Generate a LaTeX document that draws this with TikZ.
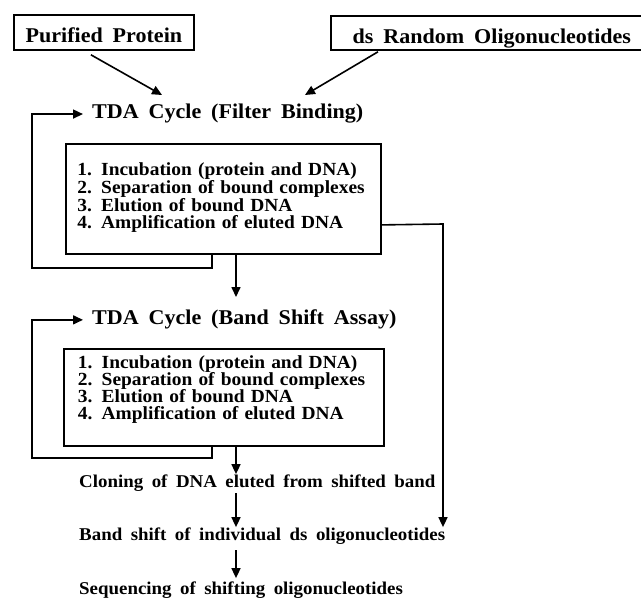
\documentclass[tikz,border=0pt]{standalone}
\usepackage{fontspec}
\setmainfont{Liberation Serif}[WordSpace=1.8,FakeStretch=1.05]
\usetikzlibrary{arrows.meta}

\newcommand{\stepsfont}[1]{\fontsize{18.5}{#1}\selectfont\bfseries\lineskiplimit=-50pt}

\tikzset{
  title/.style={font=\fontsize{21}{24}\selectfont\bfseries, inner sep=0pt},
  srcbox/.style={title, draw, line width=1.8pt, anchor=north west, text height=20.5pt, text depth=0pt},
  stepsbox/.style={draw, line width=1.8pt, anchor=north west, inner ysep=0pt, text width=292pt, align=left},
  result/.style={font=\fontsize{18}{20}\selectfont\bfseries, inner sep=0pt, anchor=base west},
  wire/.style={line width=1.6pt},
  arr/.style={wire, -{Triangle[length=10pt,width=9pt]}}
}

\begin{document}
\begin{tikzpicture}[x=1pt,y=-1pt]
  \useasboundingbox (0,0) rectangle (641,599);
  \clip (0,0) rectangle (641,599);

  \node[srcbox, minimum width=180pt, minimum height=35pt] (protein) at (13,14) {Purified Protein};
  \node[srcbox, minimum width=322pt, minimum height=34pt] (oligos) at (330,15) {ds Random Oligonucleotides};

  \node[title, anchor=base west] (filtercycle) at (92,119) {TDA Cycle (Filter Binding)};
  \node[stepsbox, inner xsep=11.5pt, text height=32pt, text depth=78pt, font={\stepsfont{17.7}}] (filtersteps) at (65,143)
    {1. Incubation (protein and DNA)\\
     2. Separation of bound complexes\\
     3. Elution of bound DNA\\
     4. Amplification of eluted DNA};

  \node[title, anchor=base west] (shiftcycle) at (92,325) {TDA Cycle (Band Shift Assay)};
  \node[stepsbox, inner xsep=14pt, text height=20pt, text depth=77pt, font={\stepsfont{17}}] (shiftsteps) at (63,348)
    {1. Incubation (protein and DNA)\\
     2. Separation of bound complexes\\
     3. Elution of bound DNA\\
     4. Amplification of eluted DNA};

  \node[result] (cloning) at (79,487) {Cloning of DNA eluted from shifted band};
  \node[result] (bandshift) at (79,540) {Band shift of individual ds oligonucleotides};
  \node[result] (sequencing) at (79,594) {Sequencing of shifting oligonucleotides};

  \coordinate (proteinin) at (162,95);
  \coordinate (oligosin) at (305,95);
  \coordinate (spine) at (236,0);
  \coordinate (feed) at (443,224);

  \draw[arr] ([xshift=-13pt,yshift=-4pt]protein.south) -- (proteinin);
  \draw[arr] ([xshift=48pt,yshift=-1pt]oligos.south west) -- (oligosin);

  \draw[arr] ([xshift=147pt]filtersteps.south west) |- (32,268) |- ([xshift=-9pt]filtercycle.west);
  \draw[arr, shorten >=13pt] (filtersteps.south -| spine) -- (shiftcycle.north -| spine);
  \draw[arr] ([yshift=-26pt]filtersteps.east) -- (feed) -- (feed |- bandshift.north);

  \draw[arr] ([xshift=149pt]shiftsteps.south west) |- (32,458) |- ([xshift=-9pt]shiftcycle.west);
  \draw[arr] (shiftsteps.south -| spine) -- (cloning.north -| spine);
  \draw[arr, shorten <=2pt] (cloning.south -| spine) -- (bandshift.north -| spine);
  \draw[arr, shorten <=6pt, shorten >=3pt] (bandshift.south -| spine) -- (sequencing.north -| spine);
\end{tikzpicture}
\end{document}
